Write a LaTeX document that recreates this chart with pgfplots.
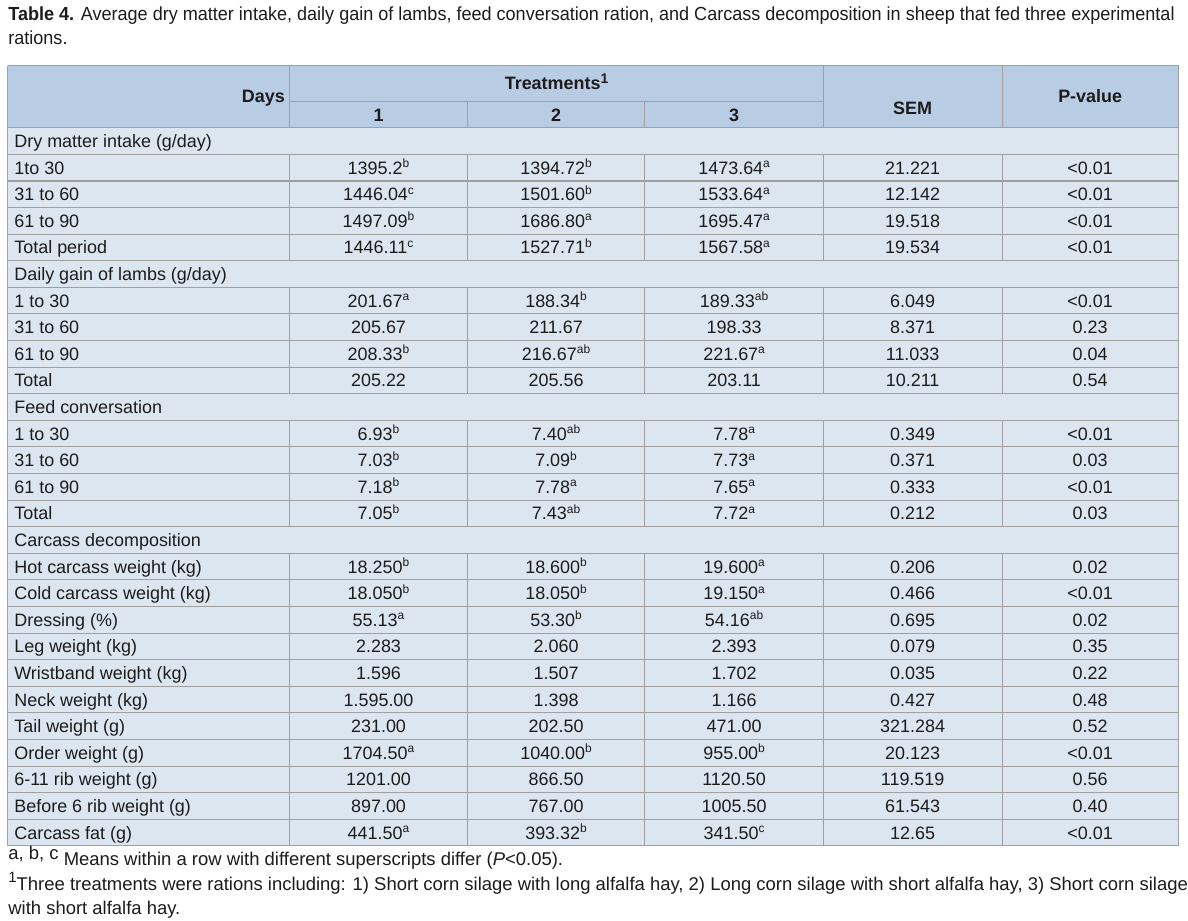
\documentclass[border=0pt]{standalone}
\usepackage{pgfplots}
\usepackage{pgfplotstable}
\pgfplotsset{compat=1.18}
\usepackage{fontspec}
\setmainfont{Liberation Sans}
\newfontfamily\titlefont[FakeStretch=0.952]{Liberation Sans}
\definecolor{hdr}{RGB}{184,204,228}
\definecolor{bodyc}{RGB}{220,230,241}
\definecolor{gridc}{RGB}{160,160,160}
\definecolor{txt}{RGB}{28,28,28}
\newcommand{\su}[1]{\raisebox{3.3pt}{\fontsize{6}{6}\selectfont #1}}
\newcommand{\fsu}[1]{\raisebox{3pt}{#1}}

\pgfplotstableread[col sep=semicolon,row sep=\\]{
r;label;t1;t2;t3;sem;p\\
1;1to 30;1395.2\su{b};1394.72\su{b};1473.64\su{a};21.221;<0.01\\
2;31 to 60;1446.04\su{c};1501.60\su{b};1533.64\su{a};12.142;<0.01\\
3;61 to 90;1497.09\su{b};1686.80\su{a};1695.47\su{a};19.518;<0.01\\
4;Total period;1446.11\su{c};1527.71\su{b};1567.58\su{a};19.534;<0.01\\
6;1 to 30;201.67\su{a};188.34\su{b};189.33\su{ab};6.049;<0.01\\
7;31 to 60;205.67;211.67;198.33;8.371;0.23\\
8;61 to 90;208.33\su{b};216.67\su{ab};221.67\su{a};11.033;0.04\\
9;Total;205.22;205.56;203.11;10.211;0.54\\
11;1 to 30;6.93\su{b};7.40\su{ab};7.78\su{a};0.349;<0.01\\
12;31 to 60;7.03\su{b};7.09\su{b};7.73\su{a};0.371;0.03\\
13;61 to 90;7.18\su{b};7.78\su{a};7.65\su{a};0.333;<0.01\\
14;Total;7.05\su{b};7.43\su{ab};7.72\su{a};0.212;0.03\\
16;Hot carcass weight (kg);18.250\su{b};18.600\su{b};19.600\su{a};0.206;0.02\\
17;Cold carcass weight (kg);18.050\su{b};18.050\su{b};19.150\su{a};0.466;<0.01\\
18;Dressing (\%);55.13\su{a};53.30\su{b};54.16\su{ab};0.695;0.02\\
19;Leg weight (kg);2.283;2.060;2.393;0.079;0.35\\
20;Wristband weight (kg);1.596;1.507;1.702;0.035;0.22\\
21;Neck weight (kg);1.595.00;1.398;1.166;0.427;0.48\\
22;Tail weight (g);231.00;202.50;471.00;321.284;0.52\\
23;Order weight (g);1704.50\su{a};1040.00\su{b};955.00\su{b};20.123;<0.01\\
24;6-11 rib weight (g);1201.00;866.50;1120.50;119.519;0.56\\
25;Before 6 rib weight (g);897.00;767.00;1005.50;61.543;0.40\\
26;Carcass fat (g);441.50\su{a};393.32\su{b};341.50\su{c};12.65;<0.01\\
}\rows

\pgfplotstableread[col sep=semicolon,row sep=\\]{
r;label\\
0;Dry matter intake (g/day)\\
5;Daily gain of lambs (g/day)\\
10;Feed conversation\\
15;Carcass decomposition\\
}\secs

\pgfplotsset{
  cell/.style={draw=none, mark=none, nodes near coords, point meta=explicit symbolic,
    every node near coord/.append style={anchor=base, inner sep=0pt,
      font=\fontsize{9}{10}\selectfont, text=txt}},
  lcell/.style={cell, every node near coord/.append style={anchor=base west}},
}

\begin{document}
\begin{tikzpicture}
\begin{axis}[scale only axis, width=594pt, height=461.5pt,
  xmin=0, xmax=1188, ymin=0, ymax=923, y dir=reverse,
  axis lines=none, ticks=none, clip=false]
% page background
\fill[white] (axis cs:0,0) rectangle (axis cs:1188,923);
% fills
\fill[hdr] (axis cs:8,65.7) rectangle (axis cs:1182,128);
\fill[bodyc] (axis cs:8,128) rectangle (axis cs:1182,848);
% horizontal lines
\pgfplotsinvokeforeach{0,...,27}{
  \draw[gridc, line width=0.5pt] (axis cs:8,{128+#1*26.667}) -- (axis cs:1182,{128+#1*26.667});
}
\draw[gridc, line width=1pt] (axis cs:8,181.33) -- (axis cs:1182,181.33);
\draw[gridc, line width=0.5pt] (axis cs:8,65.7) -- (axis cs:1182,65.7);
\draw[gridc, line width=0.5pt] (axis cs:290,102) -- (axis cs:826,102);
% outer verticals
\draw[gridc, line width=0.5pt] (axis cs:8,65.7) -- (axis cs:8,848);
\draw[gridc, line width=0.5pt] (axis cs:1182,65.7) -- (axis cs:1182,848);
% header verticals
\pgfplotsinvokeforeach{290,826,1005}{
  \draw[gridc, line width=0.5pt] (axis cs:#1,65.7) -- (axis cs:#1,128);
}
\pgfplotsinvokeforeach{469,646}{
  \draw[gridc, line width=0.5pt] (axis cs:#1,102) -- (axis cs:#1,128);
}
% body verticals, skipping section rows
\pgfplotsinvokeforeach{290,469,646,826,1005}{
  \draw[gridc, line width=0.5pt] (axis cs:#1,154.67) -- (axis cs:#1,261.33);
  \draw[gridc, line width=0.5pt] (axis cs:#1,288) -- (axis cs:#1,394.67);
  \draw[gridc, line width=0.5pt] (axis cs:#1,421.33) -- (axis cs:#1,528);
  \draw[gridc, line width=0.5pt] (axis cs:#1,554.67) -- (axis cs:#1,848);
}
% cell texts
\addplot[lcell] table[x expr=14, y expr={147.83+\thisrow{r}*26.667}, meta=label] {\secs};
\addplot[lcell] table[x expr=14, y expr={147.83+\thisrow{r}*26.667}, meta=label] {\rows};
\addplot[cell] table[x expr=379.5, y expr={147.83+\thisrow{r}*26.667}, meta=t1] {\rows};
\addplot[cell] table[x expr=557.5, y expr={147.83+\thisrow{r}*26.667}, meta=t2] {\rows};
\addplot[cell] table[x expr=736, y expr={147.83+\thisrow{r}*26.667}, meta=t3] {\rows};
\addplot[cell] table[x expr=915, y expr={147.83+\thisrow{r}*26.667}, meta=sem] {\rows};
\addplot[cell] table[x expr=1093, y expr={147.83+\thisrow{r}*26.667}, meta=p] {\rows};
% header texts
\begin{scope}[every node/.style={inner sep=0pt, text=txt, font=\fontsize{9}{10}\selectfont\bfseries}]
\node[anchor=base east] at (axis cs:286,103) {Days};
\node[anchor=base] at (axis cs:558,90) {Treatments\raisebox{3.3pt}{\fontsize{7}{7}\selectfont 1}};
\node[anchor=base] at (axis cs:379.5,121.5) {1};
\node[anchor=base] at (axis cs:557.5,121.5) {2};
\node[anchor=base] at (axis cs:736,121.5) {3};
\node[anchor=base] at (axis cs:915,115) {SEM};
\node[anchor=base] at (axis cs:1093,103) {P-value};
\end{scope}
% title
\node[anchor=base west, inner sep=0pt, text=txt, font=\fontsize{9.5}{10}\titlefont] at (axis cs:8,20.5) {\textbf{Table 4.} Average dry matter intake, daily gain of lambs, feed conversation ration, and Carcass decomposition in sheep that fed three experimental};
\node[anchor=base west, inner sep=0pt, text=txt, font=\fontsize{9.5}{10}\titlefont] at (axis cs:8,45) {rations.};
% footnotes
\begin{scope}[every node/.style={anchor=base west, inner sep=0pt, text=txt, font=\fontsize{9.25}{10}\selectfont}]
\node at (axis cs:8,868) {\fsu{a, b, c} Means within a row with different superscripts differ (\textit{P}<0.05).};
\node at (axis cs:8,893) {\raisebox{4pt}{\fontsize{7.5}{8}\selectfont 1}Three treatments were rations including: 1) Short corn silage with long alfalfa hay, 2) Long corn silage with short alfalfa hay, 3) Short corn silage};
\node at (axis cs:8,917) {with short alfalfa hay.};
\end{scope}
\end{axis}
\end{tikzpicture}
\end{document}
